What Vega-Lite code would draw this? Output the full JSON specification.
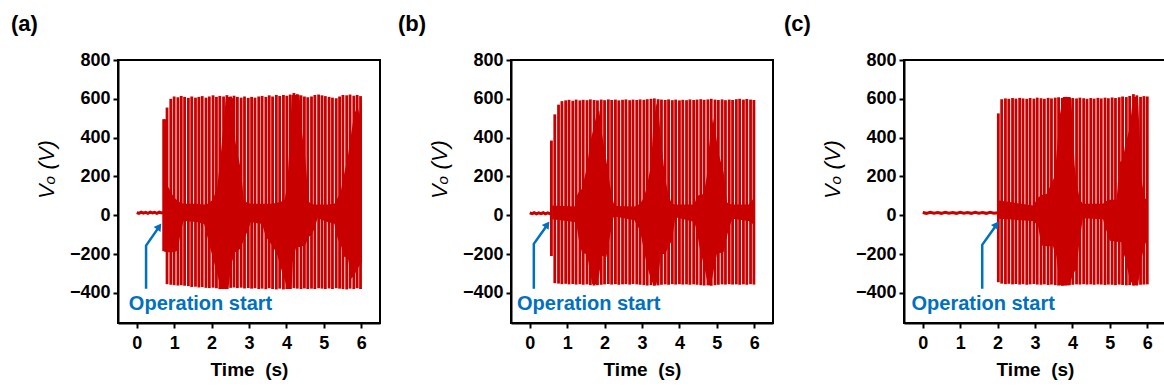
{
  "$schema": "https://vega.github.io/schema/vega-lite/v6.json",
  "padding": {"left": 10, "top": 12, "right": 0, "bottom": 0},
  "background": "white",
  "bounds": "flush",
  "spacing": 131,
  "config": {
    "font": "Liberation Sans",
    "view": {"stroke": "#000000", "strokeWidth": 2},
    "axis": {"grid": false, "domainColor": "#000000", "domainWidth": 2, "tickColor": "#000000", "tickWidth": 2, "tickSize": 5, "labelColor": "#000000", "labelFont": "Liberation Sans", "labelFontSize": 18, "labelFontWeight": "bold", "titleColor": "#000000", "titleFont": "Liberation Sans"},
    "title": {"fontSize": 22, "fontWeight": "bold", "color": "#000000", "font": "Liberation Sans"}
  },
  "datasets": {
    "spk": [
      {"p": "a", "t": 0.72, "v": -185, "v2": 495}, {"p": "a", "t": 0.81, "v": -355, "v2": 555}, {"p": "a", "t": 0.91, "v": -358, "v2": 600}, {"p": "a", "t": 1.00, "v": -360, "v2": 612}, {"p": "a", "t": 1.10, "v": -362, "v2": 608}, {"p": "a", "t": 1.19, "v": -360, "v2": 615}, {"p": "a", "t": 1.28, "v": -363, "v2": 610}, {"p": "a", "t": 1.38, "v": -365, "v2": 605}, {"p": "a", "t": 1.47, "v": -370, "v2": 612}, {"p": "a", "t": 1.57, "v": -368, "v2": 606}, {"p": "a", "t": 1.66, "v": -372, "v2": 610}, {"p": "a", "t": 1.75, "v": -370, "v2": 614}, {"p": "a", "t": 1.85, "v": -374, "v2": 606}, {"p": "a", "t": 1.94, "v": -375, "v2": 612}, {"p": "a", "t": 2.04, "v": -373, "v2": 618}, {"p": "a", "t": 2.13, "v": -376, "v2": 610}, {"p": "a", "t": 2.22, "v": -380, "v2": 615}, {"p": "a", "t": 2.32, "v": -378, "v2": 612}, {"p": "a", "t": 2.41, "v": -380, "v2": 619}, {"p": "a", "t": 2.51, "v": -374, "v2": 612}, {"p": "a", "t": 2.60, "v": -372, "v2": 616}, {"p": "a", "t": 2.69, "v": -375, "v2": 610}, {"p": "a", "t": 2.79, "v": -373, "v2": 606}, {"p": "a", "t": 2.88, "v": -377, "v2": 612}, {"p": "a", "t": 2.98, "v": -375, "v2": 605}, {"p": "a", "t": 3.07, "v": -378, "v2": 610}, {"p": "a", "t": 3.16, "v": -376, "v2": 606}, {"p": "a", "t": 3.26, "v": -380, "v2": 612}, {"p": "a", "t": 3.35, "v": -378, "v2": 615}, {"p": "a", "t": 3.45, "v": -381, "v2": 610}, {"p": "a", "t": 3.54, "v": -376, "v2": 618}, {"p": "a", "t": 3.63, "v": -380, "v2": 612}, {"p": "a", "t": 3.73, "v": -382, "v2": 620}, {"p": "a", "t": 3.82, "v": -378, "v2": 615}, {"p": "a", "t": 3.92, "v": -382, "v2": 620}, {"p": "a", "t": 4.01, "v": -380, "v2": 616}, {"p": "a", "t": 4.10, "v": -378, "v2": 622}, {"p": "a", "t": 4.20, "v": -376, "v2": 630}, {"p": "a", "t": 4.29, "v": -378, "v2": 624}, {"p": "a", "t": 4.39, "v": -380, "v2": 618}, {"p": "a", "t": 4.48, "v": -377, "v2": 612}, {"p": "a", "t": 4.57, "v": -380, "v2": 608}, {"p": "a", "t": 4.67, "v": -378, "v2": 612}, {"p": "a", "t": 4.76, "v": -380, "v2": 620}, {"p": "a", "t": 4.86, "v": -376, "v2": 622}, {"p": "a", "t": 4.95, "v": -378, "v2": 618}, {"p": "a", "t": 5.04, "v": -380, "v2": 614}, {"p": "a", "t": 5.14, "v": -377, "v2": 610}, {"p": "a", "t": 5.23, "v": -380, "v2": 606}, {"p": "a", "t": 5.33, "v": -376, "v2": 603}, {"p": "a", "t": 5.42, "v": -378, "v2": 612}, {"p": "a", "t": 5.51, "v": -380, "v2": 620}, {"p": "a", "t": 5.61, "v": -382, "v2": 618}, {"p": "a", "t": 5.70, "v": -378, "v2": 622}, {"p": "a", "t": 5.80, "v": -380, "v2": 616}, {"p": "a", "t": 5.89, "v": -376, "v2": 620}, {"p": "a", "t": 5.98, "v": -380, "v2": 614},
      {"p": "b", "t": 0.58, "v": -210, "v2": 385}, {"p": "b", "t": 0.67, "v": -350, "v2": 520}, {"p": "b", "t": 0.77, "v": -352, "v2": 570}, {"p": "b", "t": 0.86, "v": -355, "v2": 588}, {"p": "b", "t": 0.96, "v": -353, "v2": 592}, {"p": "b", "t": 1.05, "v": -356, "v2": 595}, {"p": "b", "t": 1.15, "v": -354, "v2": 590}, {"p": "b", "t": 1.24, "v": -357, "v2": 596}, {"p": "b", "t": 1.34, "v": -355, "v2": 592}, {"p": "b", "t": 1.43, "v": -358, "v2": 595}, {"p": "b", "t": 1.53, "v": -356, "v2": 593}, {"p": "b", "t": 1.62, "v": -360, "v2": 597}, {"p": "b", "t": 1.72, "v": -362, "v2": 594}, {"p": "b", "t": 1.81, "v": -360, "v2": 592}, {"p": "b", "t": 1.91, "v": -358, "v2": 596}, {"p": "b", "t": 2.00, "v": -356, "v2": 593}, {"p": "b", "t": 2.10, "v": -354, "v2": 597}, {"p": "b", "t": 2.19, "v": -357, "v2": 594}, {"p": "b", "t": 2.29, "v": -355, "v2": 596}, {"p": "b", "t": 2.38, "v": -358, "v2": 592}, {"p": "b", "t": 2.48, "v": -356, "v2": 595}, {"p": "b", "t": 2.57, "v": -355, "v2": 597}, {"p": "b", "t": 2.67, "v": -357, "v2": 593}, {"p": "b", "t": 2.76, "v": -354, "v2": 596}, {"p": "b", "t": 2.86, "v": -356, "v2": 594}, {"p": "b", "t": 2.95, "v": -358, "v2": 597}, {"p": "b", "t": 3.05, "v": -360, "v2": 595}, {"p": "b", "t": 3.14, "v": -362, "v2": 598}, {"p": "b", "t": 3.24, "v": -360, "v2": 600}, {"p": "b", "t": 3.33, "v": -363, "v2": 602}, {"p": "b", "t": 3.43, "v": -361, "v2": 598}, {"p": "b", "t": 3.52, "v": -358, "v2": 596}, {"p": "b", "t": 3.62, "v": -356, "v2": 594}, {"p": "b", "t": 3.71, "v": -358, "v2": 597}, {"p": "b", "t": 3.81, "v": -355, "v2": 593}, {"p": "b", "t": 3.90, "v": -357, "v2": 596}, {"p": "b", "t": 4.00, "v": -355, "v2": 592}, {"p": "b", "t": 4.09, "v": -357, "v2": 595}, {"p": "b", "t": 4.19, "v": -356, "v2": 593}, {"p": "b", "t": 4.28, "v": -358, "v2": 597}, {"p": "b", "t": 4.38, "v": -356, "v2": 594}, {"p": "b", "t": 4.47, "v": -358, "v2": 596}, {"p": "b", "t": 4.57, "v": -360, "v2": 598}, {"p": "b", "t": 4.66, "v": -362, "v2": 595}, {"p": "b", "t": 4.76, "v": -361, "v2": 597}, {"p": "b", "t": 4.85, "v": -363, "v2": 600}, {"p": "b", "t": 4.95, "v": -360, "v2": 596}, {"p": "b", "t": 5.04, "v": -358, "v2": 594}, {"p": "b", "t": 5.14, "v": -356, "v2": 597}, {"p": "b", "t": 5.23, "v": -357, "v2": 593}, {"p": "b", "t": 5.33, "v": -355, "v2": 596}, {"p": "b", "t": 5.42, "v": -357, "v2": 594}, {"p": "b", "t": 5.52, "v": -356, "v2": 598}, {"p": "b", "t": 5.61, "v": -358, "v2": 600}, {"p": "b", "t": 5.71, "v": -356, "v2": 596}, {"p": "b", "t": 5.80, "v": -358, "v2": 599}, {"p": "b", "t": 5.90, "v": -355, "v2": 596}, {"p": "b", "t": 5.99, "v": -357, "v2": 594},
      {"p": "c", "t": 2.02, "v": -345, "v2": 525}, {"p": "c", "t": 2.11, "v": -352, "v2": 598}, {"p": "c", "t": 2.21, "v": -355, "v2": 602}, {"p": "c", "t": 2.30, "v": -353, "v2": 600}, {"p": "c", "t": 2.40, "v": -356, "v2": 604}, {"p": "c", "t": 2.49, "v": -354, "v2": 601}, {"p": "c", "t": 2.59, "v": -357, "v2": 605}, {"p": "c", "t": 2.68, "v": -355, "v2": 602}, {"p": "c", "t": 2.78, "v": -358, "v2": 600}, {"p": "c", "t": 2.87, "v": -356, "v2": 604}, {"p": "c", "t": 2.97, "v": -354, "v2": 601}, {"p": "c", "t": 3.06, "v": -357, "v2": 606}, {"p": "c", "t": 3.16, "v": -358, "v2": 603}, {"p": "c", "t": 3.25, "v": -356, "v2": 600}, {"p": "c", "t": 3.35, "v": -359, "v2": 605}, {"p": "c", "t": 3.44, "v": -357, "v2": 602}, {"p": "c", "t": 3.54, "v": -360, "v2": 606}, {"p": "c", "t": 3.63, "v": -362, "v2": 608}, {"p": "c", "t": 3.73, "v": -363, "v2": 605}, {"p": "c", "t": 3.82, "v": -361, "v2": 610}, {"p": "c", "t": 3.92, "v": -360, "v2": 607}, {"p": "c", "t": 4.01, "v": -358, "v2": 604}, {"p": "c", "t": 4.11, "v": -356, "v2": 602}, {"p": "c", "t": 4.20, "v": -357, "v2": 606}, {"p": "c", "t": 4.30, "v": -355, "v2": 603}, {"p": "c", "t": 4.39, "v": -357, "v2": 600}, {"p": "c", "t": 4.49, "v": -356, "v2": 604}, {"p": "c", "t": 4.58, "v": -358, "v2": 601}, {"p": "c", "t": 4.68, "v": -356, "v2": 605}, {"p": "c", "t": 4.77, "v": -357, "v2": 602}, {"p": "c", "t": 4.87, "v": -359, "v2": 606}, {"p": "c", "t": 4.96, "v": -357, "v2": 603}, {"p": "c", "t": 5.06, "v": -358, "v2": 607}, {"p": "c", "t": 5.15, "v": -360, "v2": 604}, {"p": "c", "t": 5.25, "v": -357, "v2": 608}, {"p": "c", "t": 5.34, "v": -359, "v2": 612}, {"p": "c", "t": 5.44, "v": -361, "v2": 609}, {"p": "c", "t": 5.53, "v": -360, "v2": 615}, {"p": "c", "t": 5.63, "v": -362, "v2": 624}, {"p": "c", "t": 5.72, "v": -360, "v2": 618}, {"p": "c", "t": 5.82, "v": -358, "v2": 610}, {"p": "c", "t": 5.91, "v": -357, "v2": 614}, {"p": "c", "t": 6.00, "v": -356, "v2": 612}
    ],
    "env": [
      {"p": "a", "t": 0.72, "v": -185, "v2": 495}, {"p": "a", "t": 0.79, "v": -190, "v2": 495}, {"p": "a", "t": 0.83, "v": -190, "v2": 150}, {"p": "a", "t": 1.00, "v": -190, "v2": 90}, {"p": "a", "t": 1.10, "v": -180, "v2": 75}, {"p": "a", "t": 1.17, "v": -90, "v2": 65}, {"p": "a", "t": 1.25, "v": -30, "v2": 60}, {"p": "a", "t": 1.60, "v": -35, "v2": 60}, {"p": "a", "t": 1.80, "v": -45, "v2": 55}, {"p": "a", "t": 1.90, "v": -120, "v2": 60}, {"p": "a", "t": 2.03, "v": -217, "v2": 80}, {"p": "a", "t": 2.15, "v": -300, "v2": 140}, {"p": "a", "t": 2.25, "v": -380, "v2": 320}, {"p": "a", "t": 2.38, "v": -380, "v2": 600}, {"p": "a", "t": 2.45, "v": -380, "v2": 610}, {"p": "a", "t": 2.52, "v": -255, "v2": 610}, {"p": "a", "t": 2.58, "v": -220, "v2": 600}, {"p": "a", "t": 2.62, "v": -190, "v2": 400}, {"p": "a", "t": 2.68, "v": -185, "v2": 330}, {"p": "a", "t": 2.78, "v": -170, "v2": 240}, {"p": "a", "t": 2.86, "v": -126, "v2": 80}, {"p": "a", "t": 2.95, "v": -88, "v2": 65}, {"p": "a", "t": 3.05, "v": -35, "v2": 60}, {"p": "a", "t": 3.35, "v": -45, "v2": 60}, {"p": "a", "t": 3.45, "v": -110, "v2": 60}, {"p": "a", "t": 3.60, "v": -150, "v2": 60}, {"p": "a", "t": 3.75, "v": -200, "v2": 65}, {"p": "a", "t": 3.85, "v": -270, "v2": 70}, {"p": "a", "t": 3.95, "v": -330, "v2": 80}, {"p": "a", "t": 4.02, "v": -380, "v2": 150}, {"p": "a", "t": 4.10, "v": -380, "v2": 420}, {"p": "a", "t": 4.14, "v": -380, "v2": 620}, {"p": "a", "t": 4.17, "v": -241, "v2": 620}, {"p": "a", "t": 4.26, "v": -164, "v2": 620}, {"p": "a", "t": 4.35, "v": -164, "v2": 620}, {"p": "a", "t": 4.42, "v": -160, "v2": 420}, {"p": "a", "t": 4.50, "v": -155, "v2": 300}, {"p": "a", "t": 4.60, "v": -110, "v2": 70}, {"p": "a", "t": 4.66, "v": -104, "v2": 60}, {"p": "a", "t": 4.75, "v": -70, "v2": 55}, {"p": "a", "t": 4.83, "v": -15, "v2": 55}, {"p": "a", "t": 5.10, "v": -35, "v2": 55}, {"p": "a", "t": 5.28, "v": -44, "v2": 60}, {"p": "a", "t": 5.37, "v": -121, "v2": 90}, {"p": "a", "t": 5.45, "v": -150, "v2": 120}, {"p": "a", "t": 5.55, "v": -216, "v2": 220}, {"p": "a", "t": 5.64, "v": -216, "v2": 300}, {"p": "a", "t": 5.73, "v": -327, "v2": 420}, {"p": "a", "t": 5.81, "v": -310, "v2": 520}, {"p": "a", "t": 5.90, "v": -276, "v2": 560}, {"p": "a", "t": 5.95, "v": -260, "v2": 520}, {"p": "a", "t": 6.02, "v": -241, "v2": 600},
      {"p": "b", "t": 0.60, "v": -20, "v2": 50}, {"p": "b", "t": 1.20, "v": -35, "v2": 45}, {"p": "b", "t": 1.26, "v": -60, "v2": 101}, {"p": "b", "t": 1.31, "v": -124, "v2": 120}, {"p": "b", "t": 1.40, "v": -196, "v2": 137}, {"p": "b", "t": 1.53, "v": -200, "v2": 250}, {"p": "b", "t": 1.62, "v": -300, "v2": 380}, {"p": "b", "t": 1.67, "v": -355, "v2": 420}, {"p": "b", "t": 1.80, "v": -355, "v2": 530}, {"p": "b", "t": 1.86, "v": -300, "v2": 540}, {"p": "b", "t": 1.93, "v": -208, "v2": 420}, {"p": "b", "t": 2.05, "v": -215, "v2": 280}, {"p": "b", "t": 2.15, "v": -100, "v2": 151}, {"p": "b", "t": 2.24, "v": -10, "v2": 65}, {"p": "b", "t": 2.30, "v": -8, "v2": 48}, {"p": "b", "t": 2.80, "v": -25, "v2": 45}, {"p": "b", "t": 2.95, "v": -80, "v2": 60}, {"p": "b", "t": 3.05, "v": -180, "v2": 90}, {"p": "b", "t": 3.13, "v": -258, "v2": 150}, {"p": "b", "t": 3.24, "v": -330, "v2": 257}, {"p": "b", "t": 3.30, "v": -355, "v2": 450}, {"p": "b", "t": 3.38, "v": -360, "v2": 580}, {"p": "b", "t": 3.45, "v": -300, "v2": 520}, {"p": "b", "t": 3.50, "v": -200, "v2": 402}, {"p": "b", "t": 3.62, "v": -200, "v2": 189}, {"p": "b", "t": 3.71, "v": -160, "v2": 100}, {"p": "b", "t": 3.80, "v": -131, "v2": 59}, {"p": "b", "t": 3.89, "v": -10, "v2": 55}, {"p": "b", "t": 4.40, "v": -35, "v2": 55}, {"p": "b", "t": 4.47, "v": -87, "v2": 100}, {"p": "b", "t": 4.56, "v": -190, "v2": 105}, {"p": "b", "t": 4.65, "v": -250, "v2": 110}, {"p": "b", "t": 4.73, "v": -330, "v2": 200}, {"p": "b", "t": 4.78, "v": -360, "v2": 330}, {"p": "b", "t": 4.84, "v": -360, "v2": 440}, {"p": "b", "t": 4.90, "v": -300, "v2": 500}, {"p": "b", "t": 5.00, "v": -200, "v2": 380}, {"p": "b", "t": 5.05, "v": -195, "v2": 316}, {"p": "b", "t": 5.18, "v": -190, "v2": 222}, {"p": "b", "t": 5.27, "v": -110, "v2": 67}, {"p": "b", "t": 5.32, "v": -70, "v2": 60}, {"p": "b", "t": 5.41, "v": -18, "v2": 55}, {"p": "b", "t": 5.85, "v": -30, "v2": 55}, {"p": "b", "t": 6.00, "v": -50, "v2": 90},
      {"p": "c", "t": 2.04, "v": -18, "v2": 76}, {"p": "c", "t": 2.95, "v": -30, "v2": 50}, {"p": "c", "t": 3.08, "v": -53, "v2": 90}, {"p": "c", "t": 3.17, "v": -156, "v2": 105}, {"p": "c", "t": 3.31, "v": -160, "v2": 110}, {"p": "c", "t": 3.48, "v": -160, "v2": 180}, {"p": "c", "t": 3.53, "v": -190, "v2": 205}, {"p": "c", "t": 3.57, "v": -208, "v2": 300}, {"p": "c", "t": 3.66, "v": -360, "v2": 513}, {"p": "c", "t": 3.75, "v": -362, "v2": 610}, {"p": "c", "t": 3.93, "v": -360, "v2": 610}, {"p": "c", "t": 3.97, "v": -330, "v2": 600}, {"p": "c", "t": 4.02, "v": -302, "v2": 400}, {"p": "c", "t": 4.06, "v": -290, "v2": 257}, {"p": "c", "t": 4.11, "v": -276, "v2": 170}, {"p": "c", "t": 4.15, "v": -200, "v2": 128}, {"p": "c", "t": 4.20, "v": -113, "v2": 80}, {"p": "c", "t": 4.28, "v": -15, "v2": 60}, {"p": "c", "t": 4.82, "v": -20, "v2": 60}, {"p": "c", "t": 4.86, "v": -53, "v2": 70}, {"p": "c", "t": 5.00, "v": -131, "v2": 80}, {"p": "c", "t": 5.18, "v": -135, "v2": 80}, {"p": "c", "t": 5.26, "v": -140, "v2": 273}, {"p": "c", "t": 5.31, "v": -135, "v2": 280}, {"p": "c", "t": 5.35, "v": -190, "v2": 290}, {"p": "c", "t": 5.40, "v": -216, "v2": 350}, {"p": "c", "t": 5.49, "v": -293, "v2": 420}, {"p": "c", "t": 5.53, "v": -330, "v2": 450}, {"p": "c", "t": 5.62, "v": -360, "v2": 610}, {"p": "c", "t": 5.75, "v": -362, "v2": 610}, {"p": "c", "t": 5.80, "v": -300, "v2": 400}, {"p": "c", "t": 5.84, "v": -225, "v2": 188}, {"p": "c", "t": 5.93, "v": -156, "v2": 85}, {"p": "c", "t": 6.00, "v": -122, "v2": 85}
    ],
    "base": [
      {"p": "a", "t": 0.00, "v": 14}, {"p": "a", "t": 0.06, "v": 10}, {"p": "a", "t": 0.12, "v": 16}, {"p": "a", "t": 0.18, "v": 11}, {"p": "a", "t": 0.24, "v": 15}, {"p": "a", "t": 0.30, "v": 10}, {"p": "a", "t": 0.36, "v": 16}, {"p": "a", "t": 0.42, "v": 12}, {"p": "a", "t": 0.48, "v": 15}, {"p": "a", "t": 0.54, "v": 10}, {"p": "a", "t": 0.60, "v": 16}, {"p": "a", "t": 0.66, "v": 12}, {"p": "a", "t": 0.72, "v": 14},
      {"p": "b", "t": 0.00, "v": 12}, {"p": "b", "t": 0.06, "v": 8}, {"p": "b", "t": 0.12, "v": 13}, {"p": "b", "t": 0.18, "v": 7}, {"p": "b", "t": 0.24, "v": 12}, {"p": "b", "t": 0.30, "v": 8}, {"p": "b", "t": 0.36, "v": 13}, {"p": "b", "t": 0.42, "v": 7}, {"p": "b", "t": 0.48, "v": 12}, {"p": "b", "t": 0.54, "v": 8}, {"p": "b", "t": 0.58, "v": 10},
      {"p": "c", "t": 0.00, "v": 14}, {"p": "c", "t": 0.10, "v": 10}, {"p": "c", "t": 0.20, "v": 15}, {"p": "c", "t": 0.30, "v": 11}, {"p": "c", "t": 0.40, "v": 14}, {"p": "c", "t": 0.50, "v": 10}, {"p": "c", "t": 0.60, "v": 15}, {"p": "c", "t": 0.70, "v": 11}, {"p": "c", "t": 0.80, "v": 14}, {"p": "c", "t": 0.90, "v": 10}, {"p": "c", "t": 1.00, "v": 15}, {"p": "c", "t": 1.10, "v": 11}, {"p": "c", "t": 1.20, "v": 14}, {"p": "c", "t": 1.30, "v": 10}, {"p": "c", "t": 1.40, "v": 15}, {"p": "c", "t": 1.50, "v": 11}, {"p": "c", "t": 1.60, "v": 14}, {"p": "c", "t": 1.70, "v": 10}, {"p": "c", "t": 1.80, "v": 15}, {"p": "c", "t": 1.90, "v": 11}, {"p": "c", "t": 2.02, "v": 13}
    ],
    "arr": [
      {"p": "a", "k": 1, "t": 0.25, "v": -379}, {"p": "a", "k": 2, "t": 0.25, "v": -156}, {"p": "a", "k": 3, "t": 0.56, "v": -70},
      {"p": "b", "k": 1, "t": 0.11, "v": -379}, {"p": "b", "k": 2, "t": 0.11, "v": -147}, {"p": "b", "k": 3, "t": 0.44, "v": -58},
      {"p": "c", "k": 1, "t": 1.59, "v": -379}, {"p": "c", "k": 2, "t": 1.59, "v": -152}, {"p": "c", "k": 3, "t": 1.94, "v": -58}
    ],
    "head": [
      {"p": "a", "t": 0.60, "v": -58},
      {"p": "b", "t": 0.47, "v": -47},
      {"p": "c", "t": 1.97, "v": -47}
    ],
    "lbl": [
      {"p": "a", "t": -0.21, "v": -456, "s": "Operation start"},
      {"p": "b", "t": -0.34, "v": -456, "s": "Operation start"},
      {"p": "c", "t": -0.30, "v": -456, "s": "Operation start"}
    ]
  },
  "hconcat": [
    {
      "width": 262, "height": 263,
      "title": {"text": "(a)", "anchor": "start", "frame": "group", "dx": -107, "offset": 15},
      "encoding": {
        "x": {"field": "t", "type": "quantitative", "scale": {"domain": [-0.5, 6.5], "nice": false, "zero": false}, "axis": {"values": [0, 1, 2, 3, 4, 5, 6], "title": "Time\u00a0 (s)", "titleFontSize": 19, "titleFontWeight": "bold", "labelPadding": 6, "titlePadding": 8, "labelFlush": false}},
        "y": {"field": "v", "type": "quantitative", "scale": {"domain": [-555, 800], "nice": false, "zero": false}, "axis": {"values": [-400, -200, 0, 200, 400, 600, 800], "title": "V\u2092 (V)", "titleFontSize": 22, "titleFontWeight": "normal", "titleFontStyle": "italic", "labelPadding": 3, "titlePadding": 11, "titleY": 109}}
      },
      "layer": [
        {"data": {"name": "env"}, "transform": [{"filter": "datum.p == 'a'"}], "mark": {"type": "area", "color": "#c80000", "opacity": 1}, "encoding": {"y2": {"field": "v2"}}},
        {"data": {"name": "spk"}, "transform": [{"filter": "datum.p == 'a'"}], "mark": {"type": "rule", "color": "#c80000", "strokeWidth": 2.8}, "encoding": {"y2": {"field": "v2"}}},
        {"data": {"name": "base"}, "transform": [{"filter": "datum.p == 'a'"}], "mark": {"type": "line", "color": "#c80000", "strokeWidth": 3}, "encoding": {}},
        {"data": {"name": "arr"}, "transform": [{"filter": "datum.p == 'a'"}], "mark": {"type": "line", "color": "#0070c0", "strokeWidth": 2.5}, "encoding": {"order": {"field": "k", "type": "quantitative"}}},
        {"data": {"name": "head"}, "transform": [{"filter": "datum.p == 'a'"}], "mark": {"type": "point", "shape": "triangle-up", "filled": true, "color": "#0070c0", "opacity": 1, "size": 70, "angle": 35}, "encoding": {}},
        {"data": {"name": "lbl"}, "transform": [{"filter": "datum.p == 'a'"}], "mark": {"type": "text", "align": "left", "baseline": "middle", "color": "#0070c0", "fontSize": 20, "fontWeight": "bold", "font": "Liberation Sans"}, "encoding": {"text": {"field": "s"}}}
      ]
    },
    {
      "width": 262, "height": 263,
      "title": {"text": "(b)", "anchor": "start", "frame": "group", "dx": -113, "offset": 15},
      "encoding": {
        "x": {"field": "t", "type": "quantitative", "scale": {"domain": [-0.5, 6.5], "nice": false, "zero": false}, "axis": {"values": [0, 1, 2, 3, 4, 5, 6], "title": "Time\u00a0 (s)", "titleFontSize": 19, "titleFontWeight": "bold", "labelPadding": 6, "titlePadding": 8, "labelFlush": false}},
        "y": {"field": "v", "type": "quantitative", "scale": {"domain": [-555, 800], "nice": false, "zero": false}, "axis": {"values": [-400, -200, 0, 200, 400, 600, 800], "title": "V\u2092 (V)", "titleFontSize": 22, "titleFontWeight": "normal", "titleFontStyle": "italic", "labelPadding": 3, "titlePadding": 11, "titleY": 109}}
      },
      "layer": [
        {"data": {"name": "env"}, "transform": [{"filter": "datum.p == 'b'"}], "mark": {"type": "area", "color": "#c80000", "opacity": 1}, "encoding": {"y2": {"field": "v2"}}},
        {"data": {"name": "spk"}, "transform": [{"filter": "datum.p == 'b'"}], "mark": {"type": "rule", "color": "#c80000", "strokeWidth": 2.8}, "encoding": {"y2": {"field": "v2"}}},
        {"data": {"name": "base"}, "transform": [{"filter": "datum.p == 'b'"}], "mark": {"type": "line", "color": "#c80000", "strokeWidth": 3}, "encoding": {}},
        {"data": {"name": "arr"}, "transform": [{"filter": "datum.p == 'b'"}], "mark": {"type": "line", "color": "#0070c0", "strokeWidth": 2.5}, "encoding": {"order": {"field": "k", "type": "quantitative"}}},
        {"data": {"name": "head"}, "transform": [{"filter": "datum.p == 'b'"}], "mark": {"type": "point", "shape": "triangle-up", "filled": true, "color": "#0070c0", "opacity": 1, "size": 70, "angle": 35}, "encoding": {}},
        {"data": {"name": "lbl"}, "transform": [{"filter": "datum.p == 'b'"}], "mark": {"type": "text", "align": "left", "baseline": "middle", "color": "#0070c0", "fontSize": 20, "fontWeight": "bold", "font": "Liberation Sans"}, "encoding": {"text": {"field": "s"}}}
      ]
    },
    {
      "width": 262, "height": 263,
      "title": {"text": "(c)", "anchor": "start", "frame": "group", "dx": -120, "offset": 15},
      "encoding": {
        "x": {"field": "t", "type": "quantitative", "scale": {"domain": [-0.5, 6.5], "nice": false, "zero": false}, "axis": {"values": [0, 1, 2, 3, 4, 5, 6], "title": "Time\u00a0 (s)", "titleFontSize": 19, "titleFontWeight": "bold", "labelPadding": 6, "titlePadding": 8, "labelFlush": false}},
        "y": {"field": "v", "type": "quantitative", "scale": {"domain": [-555, 800], "nice": false, "zero": false}, "axis": {"values": [-400, -200, 0, 200, 400, 600, 800], "title": "V\u2092 (V)", "titleFontSize": 22, "titleFontWeight": "normal", "titleFontStyle": "italic", "labelPadding": 3, "titlePadding": 11, "titleY": 109}}
      },
      "layer": [
        {"data": {"name": "env"}, "transform": [{"filter": "datum.p == 'c'"}], "mark": {"type": "area", "color": "#c80000", "opacity": 1}, "encoding": {"y2": {"field": "v2"}}},
        {"data": {"name": "spk"}, "transform": [{"filter": "datum.p == 'c'"}], "mark": {"type": "rule", "color": "#c80000", "strokeWidth": 2.8}, "encoding": {"y2": {"field": "v2"}}},
        {"data": {"name": "base"}, "transform": [{"filter": "datum.p == 'c'"}], "mark": {"type": "line", "color": "#c80000", "strokeWidth": 3}, "encoding": {}},
        {"data": {"name": "arr"}, "transform": [{"filter": "datum.p == 'c'"}], "mark": {"type": "line", "color": "#0070c0", "strokeWidth": 2.5}, "encoding": {"order": {"field": "k", "type": "quantitative"}}},
        {"data": {"name": "head"}, "transform": [{"filter": "datum.p == 'c'"}], "mark": {"type": "point", "shape": "triangle-up", "filled": true, "color": "#0070c0", "opacity": 1, "size": 70, "angle": 35}, "encoding": {}},
        {"data": {"name": "lbl"}, "transform": [{"filter": "datum.p == 'c'"}], "mark": {"type": "text", "align": "left", "baseline": "middle", "color": "#0070c0", "fontSize": 20, "fontWeight": "bold", "font": "Liberation Sans"}, "encoding": {"text": {"field": "s"}}}
      ]
    }
  ]
}
